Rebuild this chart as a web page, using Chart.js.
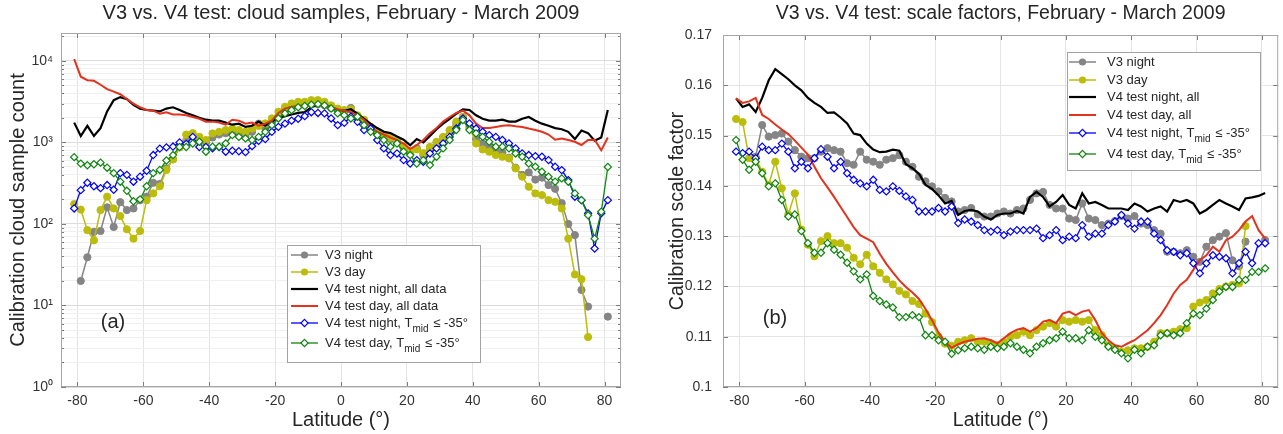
<!DOCTYPE html>
<html>
<head>
<meta charset="utf-8">
<title>V3 vs. V4 test</title>
<script src="https://cdn.jsdelivr.net/npm/chart.js@4.4.1/dist/chart.umd.min.js"></script>
<style>
  body { margin: 0; background: #fff; }
  #lienzo { position: relative; width: 1283px; height: 434px; }
  #panelA { position: absolute; left: 0; top: 0; }
  #panelB { position: absolute; left: 640px; top: 0; }
</style>
</head>
<body>
<div id="lienzo">
  <canvas id="panelA" width="640" height="434"></canvas>
  <canvas id="panelB" width="643" height="434"></canvas>
</div>
<script>
// Latitud central de cada banda (grados)
const latitudes = [
  -81, -79, -77, -75, -73, -71, -69, -67, -65, -63,
  -61, -59, -57, -55, -53, -51, -49, -47, -45, -43,
  -41, -39, -37, -35, -33, -31, -29, -27, -25, -23,
  -21, -19, -17, -15, -13, -11, -9, -7, -5, -3,
  -1, 1, 3, 5, 7, 9, 11, 13, 15, 17,
  19, 21, 23, 25, 27, 29, 31, 33, 35, 37,
  39, 41, 43, 45, 47, 49, 51, 53, 55, 57,
  59, 61, 63, 65, 67, 69, 71, 73, 75, 77,
  79, 81
];
const marcasLatitud = [-80, -60, -40, -20, 0, 20, 40, 60, 80];

// Panel (a): numero de muestras de nubes
const muestrasV3Noche = [
  null, 20, 39, 80, 82, 160, 92, 185, 148, 155,
  195, 216, 320, 310, 480, 620, 870, 1050, 1200, 1050,
  1000, 1150, 1250, 1300, 1350, 1250, 1200, 1350, 1700, 1500,
  1750, 2100, 2500, 2700, 2800, 2900, 3000, 2950, 2850, 2650,
  2450, 2400, 2650, 2100, 1800, 1500, 1300, 1200, 1100, 1050,
  850, 720, 850, 700, 850, 1000, 1150, 1400, 1700, 2050,
  1500, 1100, 970, 880, 800, 750, 650, 490, 400, 430,
  350, 370, 300, 270, 180, 100, 73, 15.5, 9.7, null,
  null, 7.3
];
const muestrasV3Dia = [
  175, 150, 84, 63, 148, 216, 155, 125, 86, 66,
  82, 196, 237, 290, 460, 620, 880, 1250, 1300, 1170,
  1070, 1290, 1350, 1420, 1480, 1420, 1350, 1480, 1590, 1710,
  1970, 2380, 2740, 3010, 3150, 3150, 3300, 3300, 3150, 2850,
  2600, 2500, 2550, 2150, 1900, 1550, 1350, 1250, 1150, 1070,
  900, 780, 820, 740, 880, 1020, 1170, 1420, 1800, 2050,
  1560, 970, 820, 770, 700, 667, 636, 480, 380, 286,
  237, 226, 196, 187, 155, 66, 24, 21, 4.1, null,
  null, null
];
const muestrasV4NocheTodo = [
  1750, 1200, 1600, 1200, 1500, 2400, 3300, 3600, 3400, 2900,
  2600, 2500, 2450, 2400, 2600, 2700, 2500, 2300, 2150, 2000,
  1900, 1850, 1850, 1750, 1650, 1700, 1550, 1600, 1800, 1600,
  1800, 2000, 2100, 2200, 2300, 2350, 2700, 2900, 2900, 2700,
  2500, 2450, 2550, 2250, 1950, 1700, 1500, 1350, 1300, 1180,
  1080, 920, 1100, 1000, 1200, 1450, 1700, 1950, 2250, 2550,
  2500, 2150, 1950, 1850, 1850, 1900, 1800, 1800, 1950, 2050,
  1850, 1700, 1600, 1500, 1450, 1350, 1100, 1400, 1300, 1050,
  1150, 2500
];
const muestrasV4DiaTodo = [
  10500, 6400, 5800, 5700, 5100, 4500, 4200, 3900, 3400, 3000,
  2700, 2500, 2450, 2250, 2350, 2200, 2200, 2150, 2050, 1950,
  1800, 1800, 1750, 1650, 1900, 1850, 1700, 1750, 1600, 1700,
  1850, 2300, 2600, 2750, 2800, 2850, 2900, 2950, 2900, 2700,
  2550, 2450, 2350, 2150, 1900, 1550, 1350, 1250, 1150, 1070,
  970, 830, 930, 1070, 1300, 1500, 1800, 2050, 2300, 2450,
  2150, 1700, 1500, 1500, 1550, 1600, 1620, 1580, 1550, 1480,
  1420, 1350, 1250, 1080, 1120, 1070, 1020, 930, 1070, 1080,
  800, 1150
];
const muestrasV4NocheT = [
  155, 260, 320, 290, 275, 300, 263, 420, 400, 330,
  380, 450, 700, 840, 870, 890, 1000, 960, 1170, 880,
  880, 850, 880, 770, 790, 780, 760, 900, 1050, 1100,
  1350, 1550, 1700, 1850, 1950, 2100, 2350, 2300, 2270, 1970,
  1630, 1740, 2070, 1790, 1420, 1480, 1070, 845, 700, 733,
  607, 552, 607, 580, 733, 845, 970, 1170, 1480, 1970,
  1710, 1480, 1350, 1230, 1170, 1070, 970, 845, 733, 700,
  680, 667, 607, 503, 458, 345, 216, 196, 135, 50,
  135, 196
];
const muestrasV4DiaT = [
  660, 550, 525, 540, 565, 490, 420, 330, 255, 190,
  200, 290, 420, 460, 600, 700, 880, 880, 970, 1020,
  770, 885, 885, 970, 1230, 1170, 1120, 1070, 1170, 1350,
  1630, 1970, 2270, 2490, 2700, 2800, 2900, 2950, 2850, 2610,
  2270, 2160, 1970, 2070, 1630, 1350, 1230, 1070, 885, 970,
  770, 700, 552, 607, 527, 667, 845, 1070, 1420, 1880,
  1420, 1290, 1170, 1020, 885, 885, 845, 733, 667, 552,
  503, 437, 379, 330, 362, 330, 237, 196, 128, 66,
  141, 500
];
const marcasLog = [
  1, 2, 3, 4, 5, 6, 7, 8, 9,
  10, 20, 30, 40, 50, 60, 70, 80, 90,
  100, 200, 300, 400, 500, 600, 700, 800, 900,
  1000, 2000, 3000, 4000, 5000, 6000, 7000, 8000, 9000,
  10000, 20000
];

// Panel (b): factor de escala de calibracion
const factorV3Noche = [
  null, null, null, 0.1458, 0.1521, 0.1498, 0.1501, 0.1504, 0.1488, 0.1471,
  0.1458, 0.1455, 0.1455, 0.1468, 0.1475, 0.1471, 0.1468, 0.1445, 0.1442, 0.1468,
  0.1452, 0.1448, 0.1442, 0.1452, 0.1455, 0.1461, 0.1448, 0.1438, 0.1418, 0.1409,
  0.1399, 0.1389, 0.1376, 0.1369, 0.1349, 0.1352, 0.1356, 0.1343, 0.1339, 0.1339,
  0.1345, 0.1349, 0.1345, 0.1352, 0.1355, 0.1372, 0.1385, 0.1388, 0.1362, 0.1355,
  0.1355, 0.1335, 0.1332, 0.1365, 0.1335, 0.1332, 0.1322, 0.1325, 0.1330, 0.1340,
  0.1335, 0.1340, 0.1325, 0.1322, 0.1312, 0.1305, 0.1269, 0.1269, 0.1266, 0.1272,
  0.1259, 0.1249, 0.1279, 0.1292, 0.1299, 0.1306, 0.1252, 0.1240, 0.1289, null,
  null, 0.1292
];
const factorV3Dia = [
  0.1533, 0.1527, 0.1455, 0.1455, 0.1428, 0.1402, 0.1448, 0.1395, 0.1343, 0.1385,
  0.1313, 0.1283, 0.1260, 0.1290, 0.1300, 0.1286, 0.1286, 0.1277, 0.1257, 0.1244,
  0.1263, 0.1240, 0.1227, 0.1214, 0.1204, 0.1191, 0.1184, 0.1171, 0.1165, 0.1146,
  0.1129, 0.1100, 0.1086, 0.1082, 0.1090, 0.1093, 0.1097, 0.1090, 0.1090, 0.1087,
  0.1083, 0.1090, 0.1100, 0.1103, 0.1110, 0.1103, 0.1113, 0.1120, 0.1127, 0.1120,
  0.1133, 0.1130, 0.1133, 0.1130, 0.1133, 0.1113, 0.1103, 0.1083, 0.1077, 0.1070,
  0.1073, 0.1077, 0.1077, 0.1080, 0.1090, 0.1107, 0.1107, 0.1110, 0.1115, 0.1117,
  0.1160, 0.1168, 0.1173, 0.1186, 0.1195, 0.1200, 0.1203, 0.1206, 0.1320, null,
  null, null
];
const factorV4NocheTodo = [
  0.1574, 0.1557, 0.1562, 0.1547, 0.1575, 0.1610, 0.1632, 0.1622, 0.1612, 0.1600,
  0.1590, 0.1575, 0.1565, 0.1557, 0.1545, 0.1546, 0.1536, 0.1524, 0.1504, 0.1501,
  0.1484, 0.1472, 0.1467, 0.1468, 0.1472, 0.1470, 0.1443, 0.1435, 0.1424, 0.1402,
  0.1394, 0.1381, 0.1365, 0.1370, 0.1342, 0.1350, 0.1352, 0.1349, 0.1339, 0.1333,
  0.1342, 0.1345, 0.1345, 0.1350, 0.1345, 0.1378, 0.1388, 0.1378, 0.1359, 0.1368,
  0.1382, 0.1362, 0.1355, 0.1385, 0.1365, 0.1368, 0.1362, 0.1355, 0.1355, 0.1355,
  0.1352, 0.1365, 0.1359, 0.1349, 0.1355, 0.1359, 0.1349, 0.1372, 0.1368, 0.1372,
  0.1365, 0.1345, 0.1352, 0.1362, 0.1372, 0.1365, 0.1359, 0.1352, 0.1375, 0.1377,
  0.1380, 0.1386
];
const factorV4DiaTodo = [
  0.1574, 0.1565, 0.1568, 0.1575, 0.1541, 0.1533, 0.1522, 0.1512, 0.1503, 0.1490,
  0.1476, 0.1462, 0.1438, 0.1415, 0.1397, 0.1378, 0.1358, 0.1338, 0.1318, 0.1302,
  0.1295, 0.1288, 0.1265, 0.1245, 0.1228, 0.1212, 0.1199, 0.1188, 0.1175, 0.1155,
  0.1133, 0.1108, 0.1090, 0.1078, 0.1085, 0.1090, 0.1093, 0.1096, 0.1097, 0.1093,
  0.1087, 0.1097, 0.1107, 0.1114, 0.1117, 0.1110, 0.1117, 0.1130, 0.1133, 0.1127,
  0.1146, 0.1150, 0.1143, 0.1150, 0.1153, 0.1133, 0.1107, 0.1093, 0.1083, 0.1080,
  0.1087, 0.1093, 0.1103, 0.1113, 0.1127, 0.1143, 0.1163, 0.1186, 0.1203, 0.1213,
  0.1233, 0.1252, 0.1262, 0.1279, 0.1269, 0.1292, 0.1299, 0.1312, 0.1329, 0.1340,
  0.1312, 0.1295
];
const factorV4NocheT = [
  0.1468, 0.1465, 0.1468, 0.1455, 0.1478, 0.1471, 0.1471, 0.1484, 0.1468, 0.1435,
  0.1448, 0.1435, 0.1455, 0.1473, 0.1458, 0.1435, 0.1448, 0.1425, 0.1412, 0.1405,
  0.1399, 0.1412, 0.1392, 0.1389, 0.1399, 0.1390, 0.1379, 0.1372, 0.1349, 0.1349,
  0.1349, 0.1356, 0.1349, 0.1359, 0.1326, 0.1333, 0.1329, 0.1322, 0.1312, 0.1309,
  0.1312, 0.1302, 0.1309, 0.1312, 0.1312, 0.1312, 0.1315, 0.1296, 0.1302, 0.1312,
  0.1292, 0.1299, 0.1296, 0.1322, 0.1299, 0.1305, 0.1305, 0.1322, 0.1329, 0.1342,
  0.1325, 0.1315, 0.1329, 0.1329, 0.1305, 0.1292, 0.1272, 0.1269, 0.1262, 0.1266,
  0.1246, 0.1226, 0.1246, 0.1262, 0.1259, 0.1256, 0.1226, 0.1246, 0.1269, 0.1246,
  0.1286, 0.1286
];
const factorV4DiaT = [
  0.1491, 0.1452, 0.1432, 0.1448, 0.1425, 0.1399, 0.1405, 0.1372, 0.1339, 0.1343,
  0.1310, 0.1286, 0.1267, 0.1267, 0.1286, 0.1273, 0.1263, 0.1247, 0.1230, 0.1214,
  0.1224, 0.1181, 0.1171, 0.1164, 0.1158, 0.1139, 0.1139, 0.1143, 0.1139, 0.1103,
  0.1103, 0.1093, 0.1090, 0.1066, 0.1073, 0.1077, 0.1080, 0.1077, 0.1074, 0.1080,
  0.1077, 0.1080, 0.1087, 0.1080, 0.1074, 0.1067, 0.1080, 0.1087, 0.1093, 0.1097,
  0.1110, 0.1097, 0.1097, 0.1093, 0.1113, 0.1100, 0.1093, 0.1080, 0.1074, 0.1067,
  0.1057, 0.1074, 0.1067, 0.1080, 0.1083, 0.1103, 0.1107, 0.1103, 0.1107, 0.1127,
  0.1146, 0.1143, 0.1156, 0.1173, 0.1190, 0.1199, 0.1199, 0.1213, 0.1213, 0.1229,
  0.1229, 0.1236
];
const marcasFactor = [0.1, 0.11, 0.12, 0.13, 0.14, 0.15, 0.16, 0.17];
const etiquetasFactor = ['0.1', '0.11', '0.12', '0.13', '0.14', '0.15', '0.16', '0.17'];

// Estilo de cada serie (mismo orden en los dos paneles)
const estilos = [
  { color: '#858585', ancho: 1.5, marca: 'circle', radio: 3.6, relleno: '#858585' },
  { color: '#bcbc0a', ancho: 1.5, marca: 'circle', radio: 3.6, relleno: '#bcbc0a' },
  { color: '#000000', ancho: 2.2, marca: null },
  { color: '#e2331f', ancho: 2, marca: null },
  { color: '#0000ff', ancho: 1.3, marca: 'rectRot', radio: 3.6, relleno: '#ffffff' },
  { color: '#0f850f', ancho: 1.3, marca: 'rectRot', radio: 3.6, relleno: '#ffffff' }
];

const FUENTE = '"Liberation Sans", Arial, Helvetica, sans-serif';
Chart.defaults.font.family = FUENTE;
Chart.defaults.color = '#262626';

const superindices = ['\u2070', '\u00b9', '\u00b2', '\u00b3', '\u2074'];

function esPotencia(v) {
  const e = Math.log10(v);
  return Math.abs(e - Math.round(e)) < 1e-9;
}

// Convertir cada serie en puntos {x, y}
function crearSeries(listaValores) {
  return listaValores.map((valores, i) => {
    const e = estilos[i];
    return {
      data: latitudes.map((lat, j) => ({ x: lat, y: valores[j] })),
      borderColor: e.color,
      borderWidth: e.ancho,
      pointStyle: e.marca || 'circle',
      pointRadius: e.marca ? e.radio : 0,
      pointHoverRadius: e.marca ? e.radio : 0,
      pointBackgroundColor: e.relleno || e.color,
      pointBorderColor: e.color,
      pointBorderWidth: e.marca === 'rectRot' ? 1.2 : 1,
      tension: 0,
      spanGaps: false,
      order: 6 - i   // la ultima serie queda encima
    };
  });
}

// Dibujar la leyenda dentro del grafico
function dibujarLeyenda(ctx, ley) {
  const c = ley.caja;
  ctx.fillStyle = '#ffffff';
  ctx.fillRect(c.x, c.y, c.w, c.h);
  ctx.strokeStyle = '#a3a3a3';
  ctx.lineWidth = 1;
  ctx.strokeRect(c.x + 0.5, c.y + 0.5, c.w, c.h);

  ley.textos.forEach((texto, i) => {
    const e = estilos[i];
    const y = ley.filasY[i];
    const xm = (ley.lineaX[0] + ley.lineaX[1]) / 2;
    ctx.strokeStyle = e.color;
    ctx.lineWidth = e.ancho;
    ctx.beginPath();
    ctx.moveTo(ley.lineaX[0], y);
    ctx.lineTo(ley.lineaX[1], y);
    ctx.stroke();
    if (e.marca === 'circle') {
      ctx.fillStyle = e.color;
      ctx.beginPath();
      ctx.arc(xm, y, e.radio, 0, Math.PI * 2);
      ctx.fill();
    } else if (e.marca === 'rectRot') {
      ctx.fillStyle = '#ffffff';
      ctx.lineWidth = 1.2;
      ctx.beginPath();
      ctx.moveTo(xm, y - e.radio);
      ctx.lineTo(xm + e.radio, y);
      ctx.lineTo(xm, y + e.radio);
      ctx.lineTo(xm - e.radio, y);
      ctx.closePath();
      ctx.fill();
      ctx.stroke();
    }

    ctx.fillStyle = '#262626';
    ctx.textAlign = 'left';
    ctx.textBaseline = 'middle';
    ctx.font = '13px ' + FUENTE;
    if (Array.isArray(texto)) {
      // texto con subindice: [principal, subindice, resto]
      let x = ley.textoX;
      ctx.fillText(texto[0], x, y);
      x += ctx.measureText(texto[0]).width;
      ctx.font = '10px ' + FUENTE;
      ctx.fillText(texto[1], x, y + 6);
      x += ctx.measureText(texto[1]).width + 1;
      ctx.font = '13px ' + FUENTE;
      ctx.fillText(texto[2], x, y);
    } else {
      ctx.fillText(texto, ley.textoX, y);
    }
  });
}

// Marco, marcas hacia dentro, titulo, etiqueta del panel y leyenda
function pluginDecoracion(conf) {
  return {
    id: 'decoracion',
    afterDraw(chart) {
      const ctx = chart.ctx;
      const a = chart.chartArea;
      const sx = chart.scales.x;
      const sy = chart.scales.y;
      ctx.save();

      ctx.strokeStyle = '#7d7d7d';
      ctx.lineWidth = 1;
      ctx.beginPath();
      marcasLatitud.forEach(v => {
        const px = Math.round(sx.getPixelForValue(v)) + 0.5;
        ctx.moveTo(px, a.bottom); ctx.lineTo(px, a.bottom - 5);
        ctx.moveTo(px, a.top); ctx.lineTo(px, a.top + 5);
      });
      sy.ticks.forEach(t => {
        const py = Math.round(sy.getPixelForValue(t.value)) + 0.5;
        const largo = conf.logaritmica && !esPotencia(t.value) ? 3 : 5;
        ctx.moveTo(a.left, py); ctx.lineTo(a.left + largo, py);
        ctx.moveTo(a.right, py); ctx.lineTo(a.right - largo, py);
      });
      ctx.stroke();

      ctx.strokeStyle = '#a6a6a6';
      ctx.strokeRect(a.left + 0.5, a.top + 0.5, a.right - a.left - 1, a.bottom - a.top - 1);

      ctx.fillStyle = '#262626';
      ctx.textAlign = 'center';
      ctx.textBaseline = 'middle';
      ctx.font = conf.fuenteTitulo + 'px ' + FUENTE;
      ctx.fillText(conf.titulo, (a.left + a.right) / 2, conf.tituloY);

      ctx.font = '20px ' + FUENTE;
      ctx.fillText(conf.etiqueta, conf.etiquetaX, conf.etiquetaY);

      dibujarLeyenda(ctx, conf.leyenda);
      ctx.restore();
    }
  };
}

function ejeLatitud(tamTicks, tamTitulo) {
  return {
    type: 'linear',
    min: -85,
    max: 85,
    afterBuildTicks: s => { s.ticks = marcasLatitud.map(v => ({ value: v })); },
    afterFit: s => { s.height = 47; },
    grid: { color: '#e4e4e4', drawTicks: false },
    border: { display: false },
    ticks: { autoSkip: false, maxRotation: 0, padding: 6, color: '#333', font: { size: tamTicks } },
    title: { display: true, text: 'Latitude (\u00b0)', color: '#262626', font: { size: tamTitulo }, padding: { top: 0, bottom: 2 } }
  };
}

// Panel (a)
new Chart(document.getElementById('panelA'), {
  type: 'line',
  data: {
    datasets: crearSeries([muestrasV3Noche, muestrasV3Dia, muestrasV4NocheTodo,
      muestrasV4DiaTodo, muestrasV4NocheT, muestrasV4DiaT])
  },
  options: {
    responsive: false,
    animation: false,
    events: [],
    layout: { padding: { left: 0, top: 33, right: 19, bottom: 0 } },
    plugins: { legend: { display: false }, tooltip: { enabled: false } },
    scales: {
      x: ejeLatitud(14, 20),
      y: {
        type: 'logarithmic',
        min: 1,
        max: 22000,
        afterBuildTicks: s => { s.ticks = marcasLog.map(v => ({ value: v })); },
        afterFit: s => { s.width = 61; },
        grid: { drawTicks: false, color: c => (c.tick && esPotencia(c.tick.value)) ? '#dcdcdc' : '#f0f0f0' },
        border: { display: false },
        ticks: {
          autoSkip: false,
          padding: 8,
          color: '#333',
          font: { size: 14 },
          callback: v => esPotencia(v) ? '10' + superindices[Math.round(Math.log10(v))] : ''
        },
        title: { display: true, text: 'Calibration cloud sample count', color: '#262626', font: { size: 20 }, padding: { top: 6, bottom: 0 } }
      }
    }
  },
  plugins: [pluginDecoracion({
    titulo: 'V3 vs. V4 test: cloud samples, February - March 2009',
    fuenteTitulo: 20,
    tituloY: 13,
    etiqueta: '(a)',
    etiquetaX: 113,
    etiquetaY: 322,
    logaritmica: true,
    leyenda: {
      caja: { x: 287, y: 245, w: 193, h: 117 },
      lineaX: [291, 318],
      textoX: 325,
      filasY: [255, 272, 289, 306, 323, 343],
      textos: ['V3 night', 'V3 day', 'V4 test night, all data', 'V4 test day, all data',
        ['V4 test night, T', 'mid', ' \u2264 -35\u00b0'], ['V4 test day, T', 'mid', ' \u2264 -35\u00b0']]
    }
  })]
});

// Panel (b)
new Chart(document.getElementById('panelB'), {
  type: 'line',
  data: {
    datasets: crearSeries([factorV3Noche, factorV3Dia, factorV4NocheTodo,
      factorV4DiaTodo, factorV4NocheT, factorV4DiaT])
  },
  options: {
    responsive: false,
    animation: false,
    events: [],
    layout: { padding: { left: 0, top: 35, right: 3, bottom: 0 } },
    plugins: { legend: { display: false }, tooltip: { enabled: false } },
    scales: {
      x: ejeLatitud(14, 19.5),
      y: {
        type: 'linear',
        min: 0.1,
        max: 0.17,
        afterBuildTicks: s => { s.ticks = marcasFactor.map(v => ({ value: v })); },
        afterFit: s => { s.width = 83; },
        grid: { drawTicks: false, color: '#e4e4e4' },
        border: { display: false },
        ticks: {
          autoSkip: false,
          padding: 11,
          color: '#333',
          font: { size: 14 },
          callback: (v, i) => etiquetasFactor[i]
        },
        title: { display: true, text: 'Calibration scale factor', color: '#262626', font: { size: 19.5 }, padding: { top: 26, bottom: 0 } }
      }
    }
  },
  plugins: [pluginDecoracion({
    titulo: 'V3 vs. V4 test: scale factors, February - March 2009',
    fuenteTitulo: 19.5,
    tituloY: 14,
    etiqueta: '(b)',
    etiquetaX: 135,
    etiquetaY: 318,
    logaritmica: false,
    leyenda: {
      caja: { x: 427, y: 52, w: 193, h: 118 },
      lineaX: [429, 456],
      textoX: 467,
      filasY: [62, 80, 97, 115, 133, 154],
      textos: ['V3 night', 'V3 day', 'V4 test night, all', 'V4 test day, all',
        ['V4 test night, T', 'mid', ' \u2264 -35\u00b0'], ['V4 test day, T', 'mid', ' \u2264 -35\u00b0']]
    }
  })]
});
</script>
</body>
</html>
